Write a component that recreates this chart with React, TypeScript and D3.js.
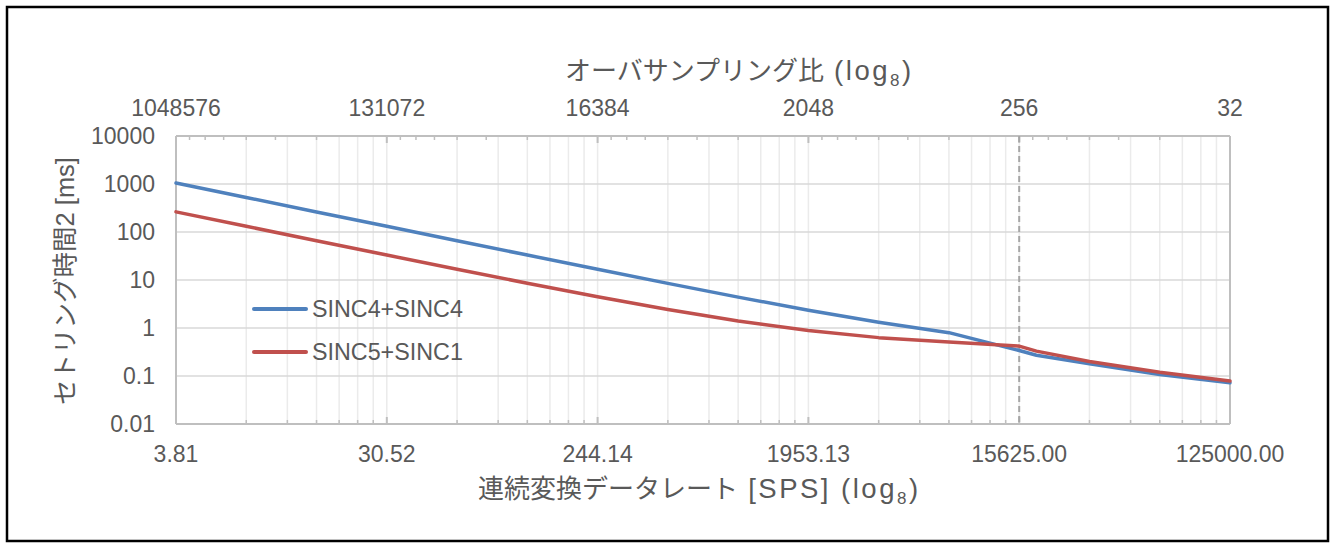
import React from "react";
import * as d3 from "d3";

// ---- data ----
const odr = [3.8147, 7.6294, 15.2588, 30.5176, 61.0352, 122.0703, 244.1406, 488.2813, 976.5625, 1953.125, 3906.25, 7812.5, 15625, 18518.5, 31250, 62500, 125000];
const sinc4sinc4 = [1050, 525, 262, 131.4, 65.8, 33.1, 16.7, 8.5, 4.4, 2.35, 1.32, 0.8, 0.34, 0.27, 0.18, 0.107, 0.072];
const sinc5sinc1 = [263, 131.4, 65.9, 33.1, 16.8, 8.57, 4.48, 2.43, 1.4, 0.89, 0.63, 0.508, 0.42, 0.33, 0.2, 0.12, 0.079];

const seriesNames = ["SINC4+SINC4", "SINC5+SINC1"];
const seriesColors = ["#4F81BD", "#C0504D"];

const bottomTickValues = [3.8147, 30.5176, 244.1406, 1953.125, 15625, 125000];
const bottomTickLabels = ["3.81", "30.52", "244.14", "1953.13", "15625.00", "125000.00"];
const topTickValues = [1048576, 131072, 16384, 2048, 256, 32];
const topTickLabels = ["1048576", "131072", "16384", "2048", "256", "32"];
const yTickValues = [0.01, 0.1, 1, 10, 100, 1000, 10000];
const yTickLabels = ["0.01", "0.1", "1", "10", "100", "1000", "10000"];
const markerOdr = 15625;

const W = 1330, H = 548;
const L = 176, R = 1230, T = 136, B = 424;
const FONT = "'Liberation Sans', Arial, 'Noto Sans CJK JP', sans-serif";
const TXT = "#595959";

export default function App() {
  const x = d3.scaleLog().base(8).domain([3.8147, 125000]).range([L, R]);
  const xTop = d3.scaleLog().base(8).domain([1048576, 32]).range([L, R]);
  const y = d3.scaleLog().domain([0.01, 10000]).range([B, T]);

  const bottomMinor: number[] = [];
  for (let i = 0; i < bottomTickValues.length - 1; i++)
    for (let k = 2; k <= 7; k++) bottomMinor.push(bottomTickValues[i] * k);
  const topMinor: number[] = [];
  for (let i = 1; i < topTickValues.length; i++)
    for (let k = 2; k <= 7; k++) topMinor.push(topTickValues[i] * k);

  const line = d3.line<[number, number]>().x(d => x(d[0])).y(d => y(d[1]));
  const series = [sinc4sinc4, sinc5sinc1].map(vals => odr.map((o, i) => [o, vals[i]] as [number, number]));

  return (
    <svg width={W} height={H} style={{ position: "absolute", left: 0, top: 0, display: "block", background: "#fff" }} fontFamily={FONT}>
      <rect x={7} y={7} width={1321} height={534} fill="#fff" stroke="#000" strokeWidth={2.5} />
      {/* vertical grid (minor and major alike) */}
      {bottomMinor.concat(bottomTickValues).map((v, i) => (
        <line key={"vg" + i} x1={x(v)} x2={x(v)} y1={T} y2={B} stroke="#ebebeb" strokeWidth={1.5} />
      ))}
      {/* horizontal grid */}
      {yTickValues.map((v, i) => (
        <line key={"hg" + i} x1={L} x2={R} y1={y(v)} y2={y(v)} stroke="#d9d9d9" strokeWidth={1.5} />
      ))}
      {/* axes lines */}
      <line x1={L} x2={R} y1={B} y2={B} stroke="#bfbfbf" strokeWidth={2} />
      <line x1={L} x2={R} y1={T} y2={T} stroke="#bfbfbf" strokeWidth={2} />
      <line x1={L} x2={L} y1={T} y2={B} stroke="#bfbfbf" strokeWidth={2} />
      <line x1={R} x2={R} y1={T} y2={B} stroke="#bfbfbf" strokeWidth={2} />
      {/* bottom ticks */}
      {bottomMinor.map((v, i) => (
        <line key={"bt" + i} x1={x(v)} x2={x(v)} y1={B} y2={B - 4} stroke="#bfbfbf" strokeWidth={1.5} />
      ))}
      {bottomTickValues.map((v, i) => (
        <line key={"bT" + i} x1={x(v)} x2={x(v)} y1={B} y2={B - 7} stroke="#bfbfbf" strokeWidth={2} />
      ))}
      {/* top ticks */}
      {topMinor.map((v, i) => (
        <line key={"tt" + i} x1={xTop(v)} x2={xTop(v)} y1={T} y2={T + 4} stroke="#bfbfbf" strokeWidth={1.5} />
      ))}
      {topTickValues.map((v, i) => (
        <line key={"tT" + i} x1={xTop(v)} x2={xTop(v)} y1={T} y2={T + 7} stroke="#bfbfbf" strokeWidth={2} />
      ))}
      {/* marker dashed line */}
      <line x1={x(markerOdr)} x2={x(markerOdr)} y1={T} y2={B} stroke="#a6a6a6" strokeWidth={2} strokeDasharray="6,4" />
      {/* series */}
      {series.map((s, i) => (
        <path key={"s" + i} d={line(s) || ""} fill="none" stroke={seriesColors[i]} strokeWidth={3.5} strokeLinejoin="round" strokeLinecap="round" />
      ))}
      {/* tick labels */}
      {yTickValues.map((v, i) => (
        <text key={"yl" + i} x={155} y={y(v)} dy="0.36em" textAnchor="end" fontSize={23} fill={TXT}>{yTickLabels[i]}</text>
      ))}
      {bottomTickValues.map((v, i) => (
        <text key={"xl" + i} x={x(v)} y={462} textAnchor="middle" fontSize={23} fill={TXT}>{bottomTickLabels[i]}</text>
      ))}
      {topTickValues.map((v, i) => (
        <text key={"tl" + i} x={xTop(v)} y={116} textAnchor="middle" fontSize={23} fill={TXT}>{topTickLabels[i]}</text>
      ))}
      {/* titles */}
      <text x={565} y={80} fontSize={26} fill={TXT}>
        オーバサンプリング比
        <tspan fontSize={27.5} letterSpacing={2.5}> (log</tspan>
        <tspan fontSize={17} dy={6} letterSpacing={2.5}>8</tspan>
        <tspan fontSize={27.5} dy={-6}>)</tspan>
      </text>
      <text x={478} y={498} fontSize={26} fill={TXT}>
        連続変換データレート
        <tspan fontSize={27.5} letterSpacing={2.5}> [SPS] (log</tspan>
        <tspan fontSize={17} dy={6} letterSpacing={2.5}>8</tspan>
        <tspan fontSize={27.5} dy={-6}>)</tspan>
      </text>
      <text transform={`translate(74, ${(T + B) / 2 + 1}) rotate(-90)`} textAnchor="middle" fontSize={25.5} fill={TXT}>
        セトリング時間2 [ms]
      </text>
      {/* legend */}
      {seriesNames.map((n, i) => (
        <g key={"lg" + i}>
          <line x1={254} x2={306} y1={309 + i * 43} y2={309 + i * 43} stroke={seriesColors[i]} strokeWidth={4} strokeLinecap="round" />
          <text x={312} y={309 + i * 43} dy="0.36em" fontSize={23.3} fill={TXT}>{n}</text>
        </g>
      ))}
    </svg>
  );
}
